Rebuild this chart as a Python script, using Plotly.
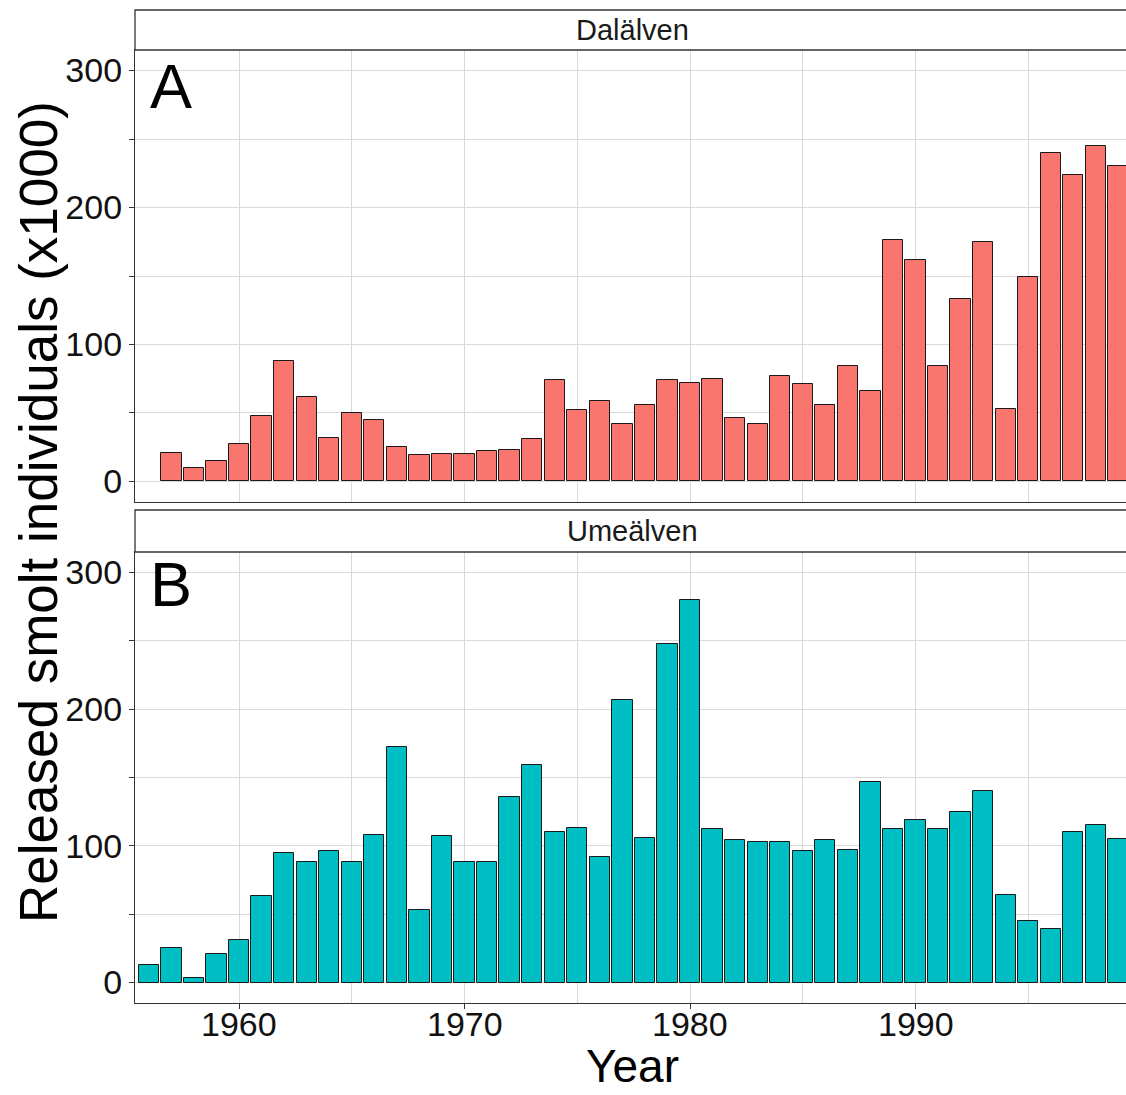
import plotly.graph_objects as go

# Released smolts per year (thousands of individuals)
years_dal = list(range(1957, 2000))
smolts_dal = [21, 10, 15, 27, 48, 88, 62, 32, 50, 45,
              25, 19, 20, 20, 22, 23, 31, 74, 52, 59,
              42, 56, 74, 72, 75, 46, 42, 77, 71, 56,
              84, 66, 176, 162, 84, 133, 175, 53, 149, 240,
              224, 245, 230]

years_ume = list(range(1956, 2000))
smolts_ume = [13, 25, 3, 21, 31, 63, 95, 88, 96, 88,
              108, 172, 53, 107, 88, 88, 136, 159, 110, 113,
              92, 207, 106, 248, 280, 112, 104, 103, 103, 96,
              104, 97, 147, 112, 119, 112, 125, 140, 64, 45,
              39, 110, 115, 105]

panel_names = ["Dalälven", "Umeälven"]
panel_tags = ["A", "B"]
x_ticks = [1960, 1970, 1980, 1990]
y_ticks = [0, 100, 200, 300]

W, H = 1126, 1095
LEFT = 135
FONT = "Liberation Sans, Arial, sans-serif"
LINE = "#333333"
GRID = "#d9d9d9"


def fy(px):
    """Pixel row from top -> paper fraction."""
    return (H - px) / H


def fx(px):
    return (px - LEFT) / (W - LEFT)


x_range = [1955.388, 1999.335]
y_range = [-15, 315]

fig = go.Figure()
fig.add_trace(go.Bar(
    x=years_dal, y=smolts_dal, width=0.9,
    marker=dict(color="#F8766D", line=dict(color="#1a1a1a", width=1)),
    xaxis="x2", yaxis="y2", showlegend=False,
))
fig.add_trace(go.Bar(
    x=years_ume, y=smolts_ume, width=0.9,
    marker=dict(color="#00BFC4", line=dict(color="#1a1a1a", width=1)),
    xaxis="x", yaxis="y", showlegend=False,
))

common_x = dict(
    range=x_range, showgrid=True, gridcolor=GRID, gridwidth=1,
    zeroline=False, showline=True, linecolor=LINE, linewidth=1.3, mirror=True,
    tickvals=x_ticks, showticklabels=False,
    minor=dict(dtick=5, tick0=1955, showgrid=True, gridcolor=GRID, gridwidth=1),
)
common_y = dict(
    range=y_range, showgrid=True, gridcolor=GRID, gridwidth=1,
    zeroline=False, showline=True, linecolor=LINE, linewidth=1.3, mirror=False,
    tickvals=y_ticks, ticks="outside", ticklen=5, tickcolor=LINE,
    tickfont=dict(family=FONT, size=34, color="#111111"),
    minor=dict(dtick=50, tick0=0, showgrid=True, gridcolor=GRID, gridwidth=1,
               ticks="outside", ticklen=5, tickcolor=LINE),
)

fig.update_layout(
    width=W, height=H,
    margin=dict(l=LEFT, r=0, t=0, b=0),
    paper_bgcolor="white", plot_bgcolor="white",
    bargap=0,
    xaxis=dict(**common_x, anchor="y", domain=[0, 1],
               ticks="outside", ticklen=5, tickcolor=LINE, automargin=False),
    xaxis2=dict(**common_x, anchor="y2", domain=[0, 1], matches="x", ticks=""),
    yaxis=dict(**common_y, anchor="x", domain=[fy(1003), fy(552)], automargin=False),
    yaxis2=dict(**common_y, anchor="x2", domain=[fy(502), fy(50)], automargin=False),
)

# year labels under the bottom panel, placed on the shared x scale
for yr in x_ticks:
    fig.add_annotation(text=str(yr), xref="x", yref="paper",
                       x=yr, y=fy(1024), xanchor="center", yanchor="middle",
                       showarrow=False,
                       font=dict(family=FONT, size=34, color="#111111"))

# facet strips
strips = [(10, 50, 30), (510, 552, 531)]
for (top, bottom, mid), name in zip(strips, panel_names):
    fig.add_shape(type="rect", xref="paper", yref="paper",
                  x0=0, x1=1.02, y0=fy(bottom), y1=fy(top),
                  line=dict(color=LINE, width=1.3), fillcolor="white", layer="above")
    fig.add_annotation(text=name, xref="paper", yref="paper",
                       x=fx(632), y=fy(mid), xanchor="center", yanchor="middle",
                       showarrow=False,
                       font=dict(family=FONT, size=29, color="#1a1a1a"))

# panel tags
for tag, cy in zip(panel_tags, [86, 584]):
    fig.add_annotation(text=tag, xref="paper", yref="paper",
                       x=fx(148), y=fy(cy), xanchor="left", yanchor="middle",
                       showarrow=False,
                       font=dict(family=FONT, size=63, color="black"))

# axis titles
fig.add_annotation(text="Released smolt individuals (x1000)", xref="paper", yref="paper",
                   x=fx(38), y=fy(512), xanchor="center", yanchor="middle",
                   textangle=-90, showarrow=False,
                   font=dict(family=FONT, size=53, color="black"))
fig.add_annotation(text="Year", xref="paper", yref="paper",
                   x=fx(632), y=fy(1066), xanchor="center", yanchor="middle",
                   showarrow=False,
                   font=dict(family=FONT, size=46, color="black"))

fig.write_html("out.html")
